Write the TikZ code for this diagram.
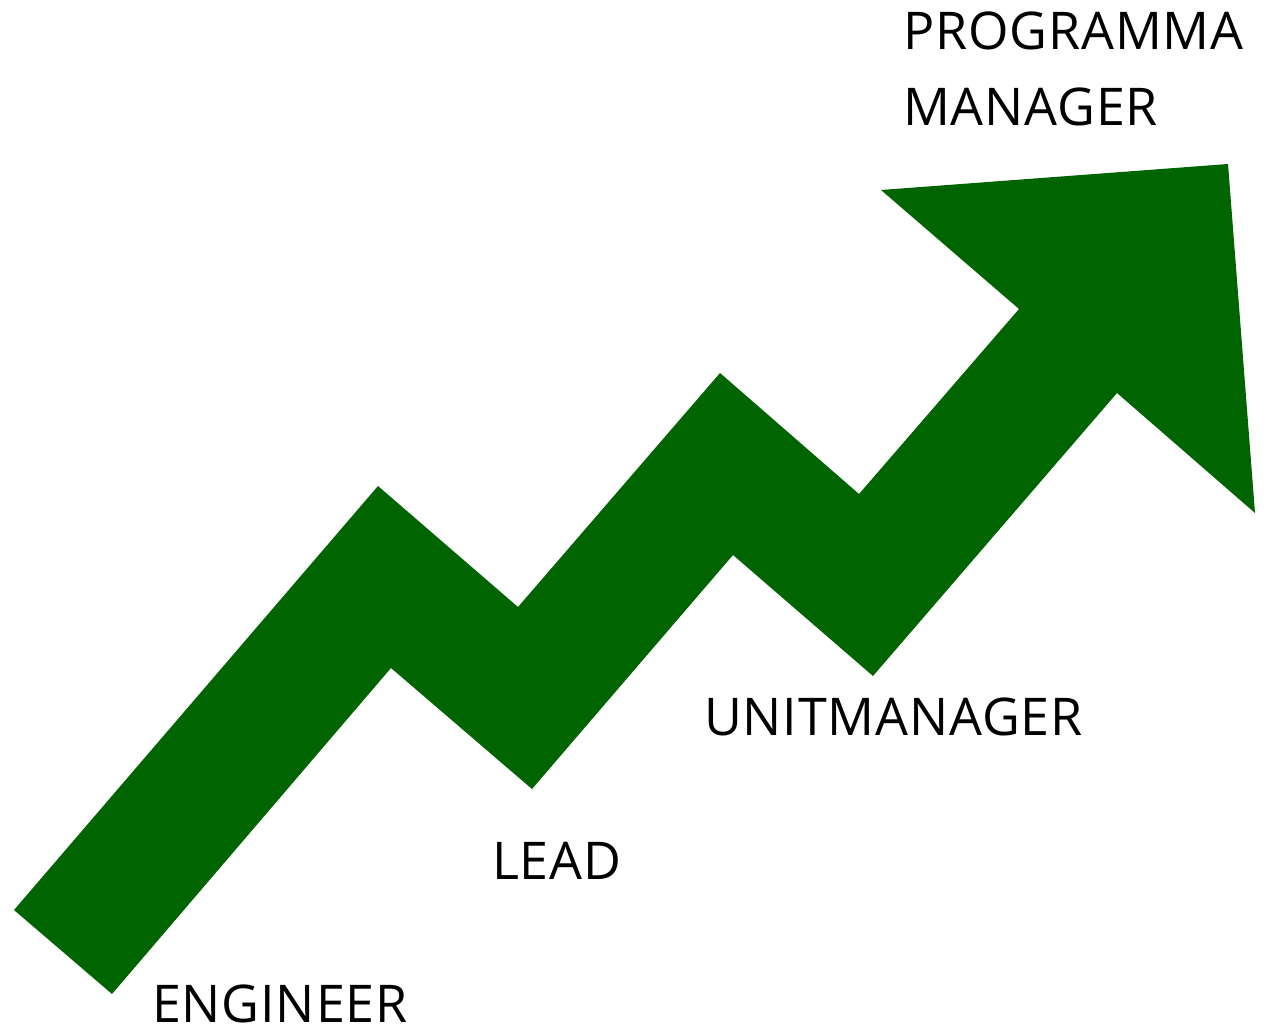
\documentclass[tikz,border=0pt]{standalone}
\usepackage{fontspec}
\setmainfont{Open Sans}[LetterSpace=1.6]
\begin{document}
\begin{tikzpicture}[x=1pt,y=-1pt,
  lbl/.style={anchor=base west,inner sep=0pt,font=\fontsize{52}{60}\selectfont,text=black},
  arrowfill/.style={fill={rgb,255:red,0;green,100;blue,0},draw=none}]
\useasboundingbox (0,0) rectangle (1276,1032);
\fill[arrowfill] (14,910) -- (378,486) -- (518,607) -- (720,373) -- (859,494) -- (1019,309) -- (881,190) -- (1228,164) -- (1255,513) -- (1117,393) -- (873,676) -- (733,555) -- (532,789) -- (391,668) -- (112,994) -- cycle;
\node[lbl] (prog) at (903,50) {PROGRAMMA};
\node[lbl] (mgr) at (903,126) {MANAGER};
\node[lbl] (unit) at (704,735) {UNITMANAGER};
\node[lbl] (lead) at (492,879) {LEAD};
\node[lbl] (eng) at (152,1022) {ENGINEER};
\end{tikzpicture}
\end{document}
